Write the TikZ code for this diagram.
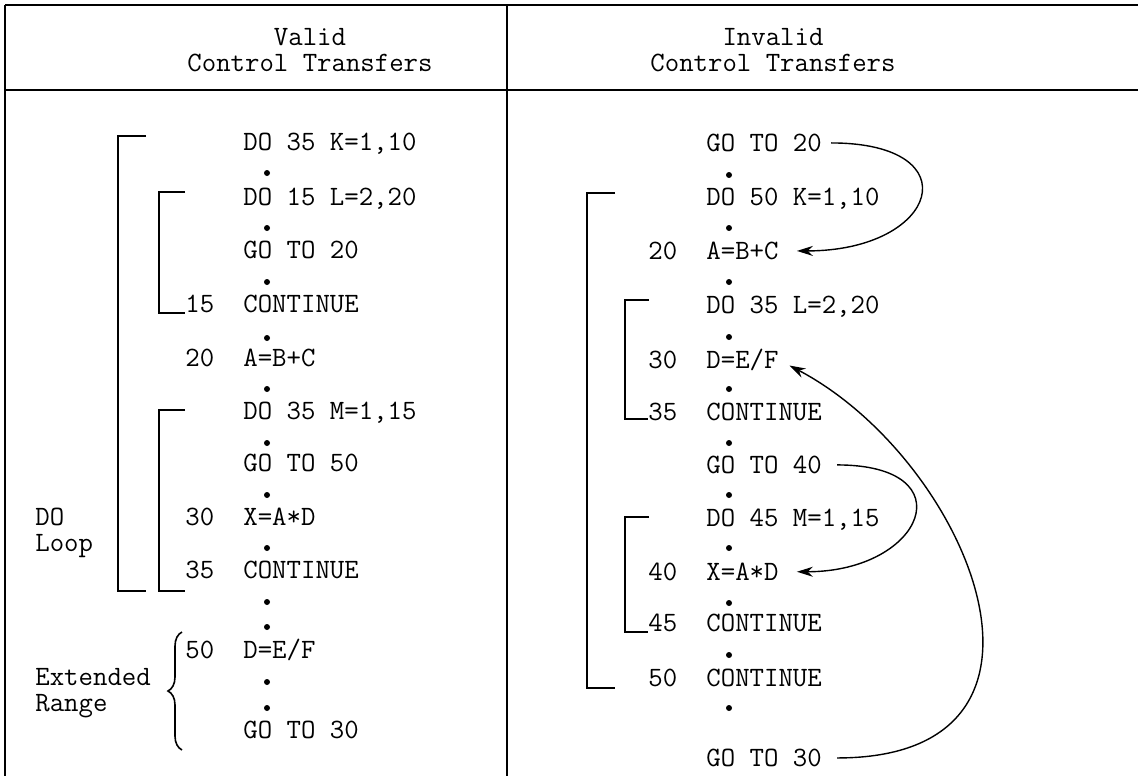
\documentclass[tikz,border=0pt]{standalone}
\usetikzlibrary{arrows.meta,decorations.pathreplacing}

\tikzset{
  code/.style={font=\fontsize{14}{13}\selectfont\ttfamily, inner sep=0pt, anchor=base west},
  head/.style={font=\fontsize{14}{13}\selectfont\ttfamily, inner sep=0pt, align=center},
  note/.style={font=\fontsize{14}{13}\selectfont\ttfamily, inner sep=0pt, align=left, anchor=west},
  dot/.style={circle, fill, inner sep=0pt, minimum size=3pt},
  rule/.style={line width=1pt},
  bracket/.style={line width=0.9pt},
  jump/.style={line width=0.7pt, -{Stealth[length=8pt,width=5pt]}},
}

\begin{document}
\begin{tikzpicture}[x=0.5pt, y=-0.5pt]
  \useasboundingbox (0,0) rectangle (1138,776);

  \draw[rule] (5,5) -- (1138,5);
  \draw[rule] (5,90) -- (1138,90);
  \draw[rule] (5,5) -- (5,776);
  \draw[rule] (507,5) -- (507,776);

  \node[head] (vhead) at (310,50) {Valid\\Control Transfers};
  \node[head] (ihead) at (773,50) {Invalid\\Control Transfers};

  \begin{scope}[every node/.style={code}]
    \node (vdok) at (243,150.5) {DO 35 K=1,10};
    \node (vdol) at (243,205.5) {DO 15 L=2,20};
    \node (vgo20) at (243,258.5) {GO TO 20};
    \node (vn15) at (185,312.5) {15};
    \node (vc15) at (243,312.5) {CONTINUE};
    \node (vn20) at (185,366.5) {20};
    \node (vabc) at (243,366.5) {A=B+C};
    \node (vdom) at (243,419.5) {DO 35 M=1,15};
    \node (vgo50) at (243,471.5) {GO TO 50};
    \node (vn30) at (185,525.5) {30};
    \node (vxad) at (243,525.5) {X=A*D};
    \node (vn35) at (185,578.5) {35};
    \node (vc35) at (243,578.5) {CONTINUE};
    \node (vn50) at (185,658.5) {50};
    \node (vdef) at (243,658.5) {D=E/F};
    \node (vgo30) at (243,738.5) {GO TO 30};

    \node (igo20) at (706,151.5) {GO TO 20};
    \node (idok) at (706,205.5) {DO 50 K=1,10};
    \node (in20) at (648,259.5) {20};
    \node (iabc) at (706,259.5) {A=B+C};
    \node (idol) at (706,313.5) {DO 35 L=2,20};
    \node (in30) at (648,368.5) {30};
    \node (idef) at (706,368.5) {D=E/F};
    \node (in35) at (648,420.5) {35};
    \node (ic35) at (706,420.5) {CONTINUE};
    \node (igo40) at (706,473.5) {GO TO 40};
    \node (idom) at (706,526.5) {DO 45 M=1,15};
    \node (in40) at (648,580.5) {40};
    \node (ixad) at (706,580.5) {X=A*D};
    \node (in45) at (648,631.5) {45};
    \node (ic45) at (706,631.5) {CONTINUE};
    \node (in50) at (648,686.5) {50};
    \node (ic50) at (706,686.5) {CONTINUE};
    \node (igo30) at (706,766.5) {GO TO 30};
  \end{scope}

  \node[note] (loop) at (35,533) {DO\\Loop};
  \node[note] (range) at (35,693) {Extended\\Range};

  \begin{scope}[every node/.style={dot}]
    \node (vd1) at (267,173) {};
    \node (vd2) at (267,228) {};
    \node (vd3) at (267,282) {};
    \node (vd4) at (267,338) {};
    \node (vd5) at (267,389) {};
    \node (vd6) at (267,443) {};
    \node (vd7) at (267,495) {};
    \node (vd8) at (267,548) {};
    \node (vd9) at (267,602) {};
    \node (vd10) at (267,627) {};
    \node (vd11) at (267,682) {};
    \node (vd12) at (267,708) {};

    \node (id1) at (729,175) {};
    \node (id2) at (729,228) {};
    \node (id3) at (729,282) {};
    \node (id4) at (729,337) {};
    \node (id5) at (729,389) {};
    \node (id6) at (729,443) {};
    \node (id7) at (729,495) {};
    \node (id8) at (729,548) {};
    \node (id9) at (729,603) {};
    \node (id10) at (729,655) {};
    \node (id11) at (729,708) {};
  \end{scope}

  \begin{scope}[bracket]
    \draw (146,136) -| (118,591) -- (146,591);
    \draw (185,192) -| (159,313) -- (185,313);
    \draw (185,410) -| (159,591) -- (185,591);
    \draw (615,193) -| (587,688) -- (615,688);
    \draw (649,300) -| (625,419) -- (648,419);
    \draw (649,517) -| (625,632) -- (648,632);
    \draw[line width=0.8pt, decorate, decoration={brace, amplitude=7pt}] (182,750) -- (182,632);
  \end{scope}

  \begin{scope}[jump]
    \draw[shorten <=4.5pt, shorten >=9pt] (igo20.east) .. controls +(150,0) and +(160,0) .. (iabc.east);
    \draw[shorten <=7.5pt, shorten >=9pt] (igo40.east) .. controls +(145,0) and +(145,0) .. (ixad.east);
    \draw[shorten <=7.5pt, shorten >=6pt] (igo30.east) .. controls +(270,0) and +(190,100) .. (idef.east);
  \end{scope}
\end{tikzpicture}
\end{document}
